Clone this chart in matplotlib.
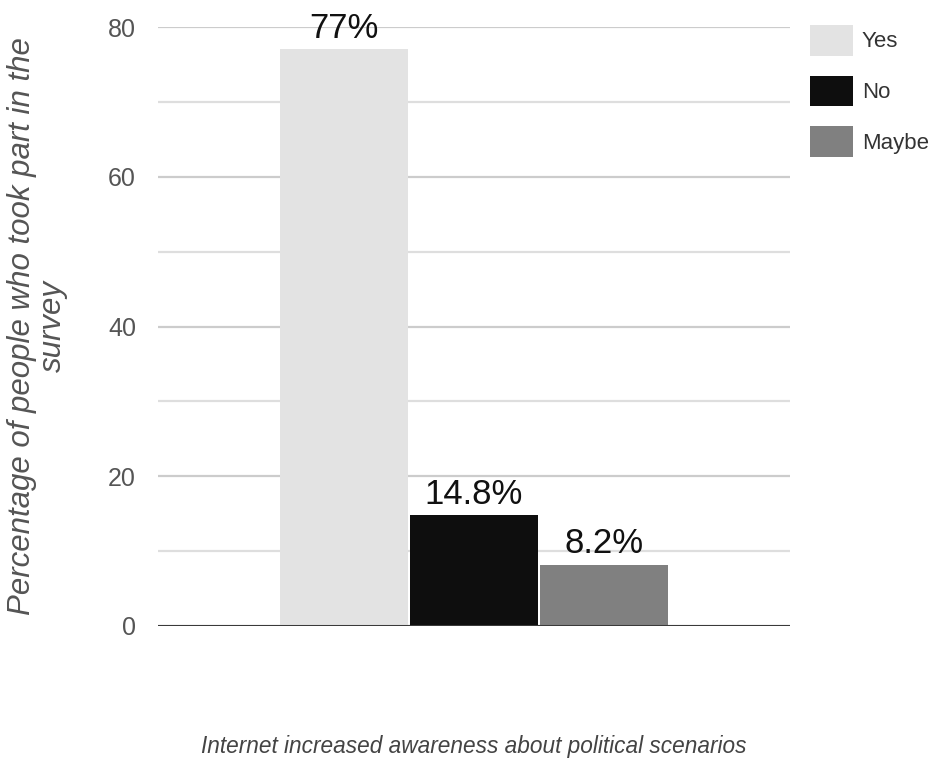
import matplotlib
matplotlib.use("Agg")
import matplotlib.pyplot as plt
from matplotlib.ticker import MultipleLocator

# Survey responses
categories = ["Yes", "No", "Maybe"]
values = [77, 14.8, 8.2]
value_labels = ["77%", "14.8%", "8.2%"]
colors = ["#e3e3e3", "#0e0e0e", "#808080"]
y_ticks = [0, 20, 40, 60, 80]

x_title = "Internet increased awareness about political scenarios"
y_title = "Percentage of people who took part in the\nsurvey"

sans = ["Liberation Sans", "DejaVu Sans"]

fig = plt.figure(figsize=(9.3, 7.61), dpi=100)
ax = fig.add_axes([0.170, 0.1774, 0.679, 0.7871])

positions = list(range(len(categories)))
ax.bar(positions, values, width=0.985, color=colors, zorder=3)

# label each bar with its value
for pos, val, lab in zip(positions, values, value_labels):
    ax.annotate(lab, (pos, val), xytext=(0, 3), textcoords="offset points",
                ha="center", va="bottom", fontsize=25, family=sans,
                color="#111111", zorder=4, annotation_clip=False)

ax.set_xlim(-1.43, 3.43)
ax.set_ylim(0, 80)
ax.set_yticks(y_ticks)
ax.yaxis.set_minor_locator(MultipleLocator(10))
ax.set_xticks([])
ax.grid(axis="y", which="major", color="#cccccc", linewidth=1.6, zorder=0)
ax.grid(axis="y", which="minor", color="#dedede", linewidth=1.6, zorder=0)
ax.tick_params(axis="y", which="both", length=0, pad=16)
for t in ax.get_yticklabels():
    t.set_fontfamily(sans)
    t.set_fontsize(18)
    t.set_color("#555555")
for s in ax.spines.values():
    s.set_visible(False)
ax.axhline(0, color="#3a3a3a", linewidth=2.2, zorder=5)

# axis titles
fig.text(0.509, 1 - 753 / 761, x_title, ha="center", va="baseline",
         fontsize=16.3, style="italic", family=sans, color="#444444")
fig.text(0.040, 0.572, y_title, ha="center", va="center", rotation=90,
         fontsize=22.5, style="italic", family=sans, color="#555555",
         linespacing=1.05, multialignment="center")

# legend
handles = [plt.Rectangle((0, 0), 1, 1, facecolor=c, edgecolor="none")
           for c in colors]
leg = fig.legend(handles, categories, loc="upper left",
                 bbox_to_anchor=(810 / 930, 1 - 25 / 761), frameon=False,
                 borderpad=0, borderaxespad=0, handlelength=1.94,
                 handleheight=1.74, handletextpad=0.4, labelspacing=0.9,
                 prop={"family": sans, "size": 16})
for t in leg.get_texts():
    t.set_color("#333333")

fig.savefig("out.png", dpi=100)
